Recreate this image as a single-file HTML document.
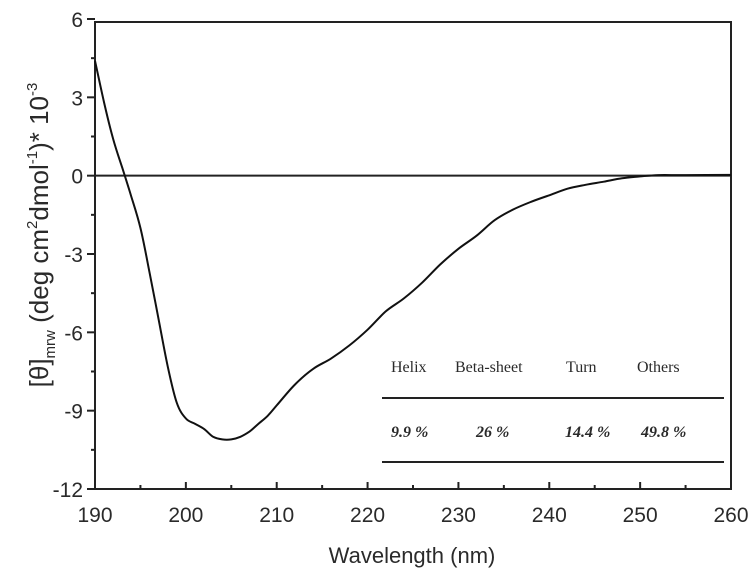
<!DOCTYPE html>
<html><head><meta charset="utf-8"><style>
body{margin:0;background:#fff;}
svg{display:block;}
text{font-family:"Liberation Sans",Arial,sans-serif;fill:#2a2a2a;}
.tbl{font-family:"Liberation Serif","DejaVu Serif",serif;font-size:16px;}
</style></head><body>
<svg id="chart" width="755" height="576" viewBox="0 0 755 576">
<g id="axes"></g>
<g id="series"></g>
<g>
  <text class="tbl" x="391" y="372">Helix</text>
  <text class="tbl" x="455" y="372">Beta-sheet</text>
  <text class="tbl" x="566" y="372">Turn</text>
  <text class="tbl" x="637" y="372">Others</text>
  <line x1="382" y1="398" x2="724" y2="398" stroke="#222" stroke-width="2"/>
  <text class="tbl" x="391" y="437" font-style="italic" font-weight="bold">9.9 %</text>
  <text class="tbl" x="476" y="437" font-style="italic" font-weight="bold">26 %</text>
  <text class="tbl" x="565" y="437" font-style="italic" font-weight="bold">14.4 %</text>
  <text class="tbl" x="641" y="437" font-style="italic" font-weight="bold">49.8 %</text>
  <line x1="382" y1="462" x2="724" y2="462" stroke="#222" stroke-width="2"/>
</g>
<text x="412" y="563" font-size="22" text-anchor="middle">Wavelength (nm)</text>
<text transform="translate(48,235) rotate(-90)" font-size="26" text-anchor="middle">[θ]<tspan font-size="15" dy="7">mrw</tspan><tspan dy="-7"> (deg cm</tspan><tspan font-size="15" dy="-11">2</tspan><tspan dy="11">dmol</tspan><tspan font-size="15" dy="-11">-1</tspan><tspan dy="11">)* 10</tspan><tspan font-size="15" dy="-11">-3</tspan></text>
</svg>
<script>
const wavelengths=[190,191,192,193,194,195,196,197,198,199,200,201,202,203,204,205,206,207,208,209,210,212,214,216,218,220,222,224,226,228,230,232,234,236,238,240,242,244,246,248,250,252,255,260];
const ellipticity=[4.4,2.8,1.4,0.3,-0.8,-2.0,-3.7,-5.5,-7.3,-8.7,-9.3,-9.5,-9.7,-10.0,-10.1,-10.1,-10.0,-9.8,-9.5,-9.2,-8.8,-8.0,-7.4,-7.0,-6.5,-5.9,-5.2,-4.7,-4.1,-3.4,-2.8,-2.3,-1.7,-1.3,-1.0,-0.75,-0.5,-0.35,-0.23,-0.1,-0.03,0.02,0.02,0.03];
const xTicks=[190,200,210,220,230,240,250,260];
const yTicks=[6,3,0,-3,-6,-9,-12];
const X0=95,X1=731,Y0=489,Y1=19;
const xs=v=>X0+(v-190)/(260-190)*(X1-X0);
const ys=v=>Y0-(v+12)/(18)*(Y0-Y1);
const NS='http://www.w3.org/2000/svg';
const axes=document.getElementById('axes');
function mk(tag,attrs,parent){const e=document.createElementNS(NS,tag);for(const k in attrs)e.setAttribute(k,attrs[k]);parent.appendChild(e);return e;}
let e;
e=mk('rect',{x:X0,y:22,width:X1-X0,height:Y0-22,fill:'none',stroke:'#222','stroke-width':2},axes);


e=mk('line',{x1:X0,x2:X1,y1:ys(0),y2:ys(0),stroke:'#222','stroke-width':2},axes);


xTicks.forEach((t,i)=>{
  const x=xs(t);
  e=mk('line',{x1:x,x2:x,y1:Y0,y2:Y0-7,stroke:'#222','stroke-width':2},axes);
  
  
  if(i<xTicks.length-1){const xm=xs(t+5);
    e=mk('line',{x1:xm,x2:xm,y1:Y0,y2:Y0-4,stroke:'#222','stroke-width':2},axes);
    
    }
  e=mk('text',{x:x,y:Y0+33,'font-size':21,'text-anchor':'middle'},axes);
  e.textContent=t;
  
  
});
yTicks.forEach((t,i)=>{
  const y=ys(t);
  e=mk('line',{x1:X0-8,x2:X0,y1:y,y2:y,stroke:'#222','stroke-width':2},axes);
  
  
  if(i<yTicks.length-1){const ym=ys(t-1.5);
    e=mk('line',{x1:X0-4,x2:X0,y1:ym,y2:ym,stroke:'#222','stroke-width':2},axes);
    
    }
  e=mk('text',{x:X0-12,y:y+8,'font-size':21,'text-anchor':'end'},axes);
  e.textContent=t;
  
  
});
const P=wavelengths.map((w,i)=>[xs(w),ys(ellipticity[i])]);
let d='M'+P[0][0].toFixed(1)+' '+P[0][1].toFixed(1);
for(let i=0;i<P.length-1;i++){
  const p0=P[i-1]||P[i],p1=P[i],p2=P[i+1],p3=P[i+2]||P[i+1];
  const c1=[p1[0]+(p2[0]-p0[0])/6,p1[1]+(p2[1]-p0[1])/6];
  const c2=[p2[0]-(p3[0]-p1[0])/6,p2[1]-(p3[1]-p1[1])/6];
  d+=' C'+c1[0].toFixed(1)+' '+c1[1].toFixed(1)+' '+c2[0].toFixed(1)+' '+c2[1].toFixed(1)+' '+p2[0].toFixed(1)+' '+p2[1].toFixed(1);
}
e=mk('path',{d:d,fill:'none',stroke:'#111','stroke-width':2,'stroke-linejoin':'round'},document.getElementById('series'));


</script>
</body></html>
